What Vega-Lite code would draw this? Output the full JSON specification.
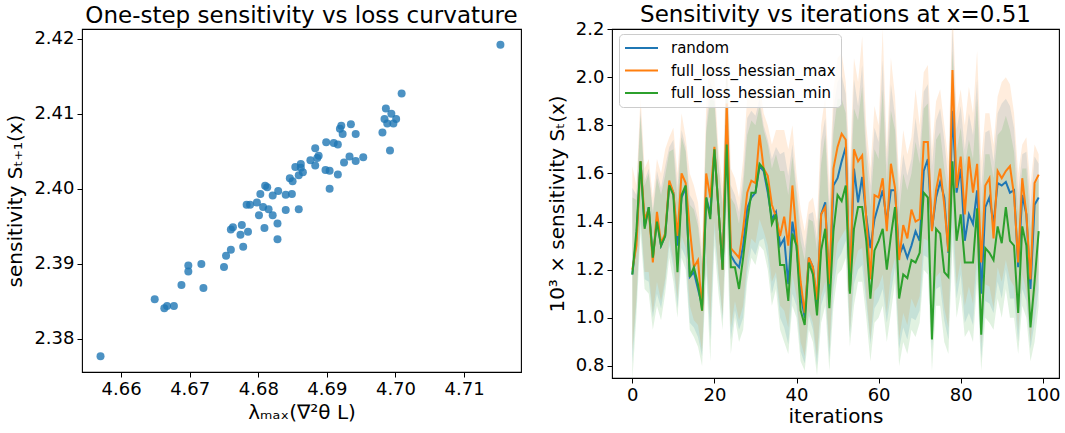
{
"$schema":"https://vega.github.io/schema/vega-lite/v6.json",
"padding":{"left":5,"top":3,"right":5,"bottom":5},
"bounds":"flush",
"spacing":91,
"config":{"font":"DejaVu Sans","view":{"stroke":"#000000","strokeWidth":1.1},
"axis":{"grid":false,"domain":false,"labelFontSize":18,"titleFontSize":20,"titleFontWeight":"normal","labelColor":"#000","titleColor":"#000","tickColor":"#000","tickSize":5,"labelPadding":3,"labelFont":"DejaVu Sans","titleFont":"DejaVu Sans"},
"title":{"fontSize":23,"fontWeight":"normal","font":"DejaVu Sans","color":"#000","offset":5,"baseline":"alphabetic"}},
"datasets":{
"pts":[{"x":4.7153,"y":2.4192},{"x":4.7009,"y":2.4127},{"x":4.6986,"y":2.4107},{"x":4.6994,"y":2.41},{"x":4.6984,"y":2.4093},{"x":4.7001,"y":2.4093},{"x":4.6988,"y":2.4087},{"x":4.6997,"y":2.4087},{"x":4.6981,"y":2.4075},{"x":4.6992,"y":2.4051},{"x":4.6935,"y":2.4086},{"x":4.6921,"y":2.4084},{"x":4.6919,"y":2.408},{"x":4.6923,"y":2.4073},{"x":4.6942,"y":2.4073},{"x":4.6899,"y":2.4062},{"x":4.691,"y":2.4061},{"x":4.6916,"y":2.4059},{"x":4.6883,"y":2.4054},{"x":4.6888,"y":2.4044},{"x":4.6886,"y":2.4041},{"x":4.6876,"y":2.4038},{"x":4.6883,"y":2.4031},{"x":4.6933,"y":2.4043},{"x":4.6953,"y":2.4042},{"x":4.6942,"y":2.4037},{"x":4.6925,"y":2.4035},{"x":4.6898,"y":2.4025},{"x":4.6904,"y":2.4024},{"x":4.6916,"y":2.4019},{"x":4.6904,"y":2.4},{"x":4.6854,"y":2.4029},{"x":4.6862,"y":2.4033},{"x":4.6862,"y":2.4028},{"x":4.6865,"y":2.4022},{"x":4.6859,"y":2.4018},{"x":4.6846,"y":2.4014},{"x":4.685,"y":2.401},{"x":4.681,"y":2.4004},{"x":4.6813,"y":2.4002},{"x":4.6829,"y":2.3997},{"x":4.684,"y":2.3992},{"x":4.6849,"y":2.3993},{"x":4.6821,"y":2.3991},{"x":4.6803,"y":2.3993},{"x":4.6798,"y":2.3982},{"x":4.6783,"y":2.3979},{"x":4.6788,"y":2.3979},{"x":4.6807,"y":2.3976},{"x":4.6815,"y":2.3973},{"x":4.684,"y":2.3972},{"x":4.6859,"y":2.3973},{"x":4.6801,"y":2.3965},{"x":4.6821,"y":2.3965},{"x":4.6828,"y":2.3954},{"x":4.6809,"y":2.3948},{"x":4.6828,"y":2.3933},{"x":4.6776,"y":2.3952},{"x":4.6763,"y":2.3949},{"x":4.676,"y":2.3946},{"x":4.6785,"y":2.3943},{"x":4.6774,"y":2.3939},{"x":4.6778,"y":2.3923},{"x":4.676,"y":2.3919},{"x":4.6753,"y":2.3911},{"x":4.675,"y":2.3896},{"x":4.6717,"y":2.39},{"x":4.6698,"y":2.3898},{"x":4.6698,"y":2.389},{"x":4.672,"y":2.3868},{"x":4.6688,"y":2.3872},{"x":4.6649,"y":2.3853},{"x":4.6667,"y":2.3844},{"x":4.6663,"y":2.3841},{"x":4.6677,"y":2.3844},{"x":4.657,"y":2.3777}],
"sens":[
{"i":0,"s":"random","v":1.18,"lo":0.81,"hi":1.54},{"i":1,"s":"random","v":1.33,"lo":1.06,"hi":1.51},{"i":2,"s":"random","v":1.65,"lo":1.4,"hi":1.87},{"i":3,"s":"random","v":1.38,"lo":1.16,"hi":1.57},{"i":4,"s":"random","v":1.46,"lo":1.15,"hi":1.62},{"i":5,"s":"random","v":1.25,"lo":1.0,"hi":1.45},{"i":6,"s":"random","v":1.41,"lo":1.1,"hi":1.61},{"i":7,"s":"random","v":1.3,"lo":1.04,"hi":1.54},{"i":8,"s":"random","v":1.34,"lo":1.14,"hi":1.63},{"i":9,"s":"random","v":1.56,"lo":1.3,"hi":1.71},
{"i":10,"s":"random","v":1.52,"lo":1.21,"hi":1.74},{"i":11,"s":"random","v":1.3,"lo":1.04,"hi":1.54},{"i":12,"s":"random","v":1.5,"lo":1.29,"hi":1.78},{"i":13,"s":"random","v":1.54,"lo":1.25,"hi":1.71},{"i":14,"s":"random","v":1.17,"lo":0.98,"hi":1.51},{"i":15,"s":"random","v":1.19,"lo":0.96,"hi":1.48},{"i":16,"s":"random","v":1.12,"lo":0.92,"hi":1.41},{"i":17,"s":"random","v":1.05,"lo":0.84,"hi":1.25},{"i":18,"s":"random","v":1.5,"lo":1.23,"hi":1.8},{"i":19,"s":"random","v":1.43,"lo":0.91,"hi":1.98},
{"i":20,"s":"random","v":1.7,"lo":1.36,"hi":1.93},{"i":21,"s":"random","v":1.45,"lo":1.16,"hi":1.65},{"i":22,"s":"random","v":1.2,"lo":0.99,"hi":1.48},{"i":23,"s":"random","v":1.8,"lo":1.49,"hi":2.09},{"i":24,"s":"random","v":1.26,"lo":0.91,"hi":1.55},{"i":25,"s":"random","v":1.23,"lo":1.03,"hi":1.51},{"i":26,"s":"random","v":1.21,"lo":0.95,"hi":1.44},{"i":27,"s":"random","v":1.3,"lo":1.0,"hi":1.59},{"i":28,"s":"random","v":1.455,"lo":1.19,"hi":1.83},{"i":29,"s":"random","v":1.5,"lo":1.29,"hi":1.86},
{"i":30,"s":"random","v":1.52,"lo":1.26,"hi":1.84},{"i":31,"s":"random","v":1.63,"lo":1.32,"hi":1.91},{"i":32,"s":"random","v":1.61,"lo":1.33,"hi":1.8},{"i":33,"s":"random","v":1.52,"lo":1.25,"hi":1.74},{"i":34,"s":"random","v":1.41,"lo":1.1,"hi":1.66},{"i":35,"s":"random","v":1.44,"lo":1.17,"hi":1.71},{"i":36,"s":"random","v":1.3,"lo":1.0,"hi":1.68},{"i":37,"s":"random","v":1.33,"lo":0.96,"hi":1.69},{"i":38,"s":"random","v":1.14,"lo":0.89,"hi":1.59},{"i":39,"s":"random","v":1.4,"lo":1.1,"hi":1.72},
{"i":40,"s":"random","v":1.3,"lo":1.05,"hi":1.54},{"i":41,"s":"random","v":1.1,"lo":0.86,"hi":1.38},{"i":42,"s":"random","v":1.0,"lo":0.81,"hi":1.29},{"i":43,"s":"random","v":1.25,"lo":1.01,"hi":1.43},{"i":44,"s":"random","v":1.21,"lo":0.95,"hi":1.44},{"i":45,"s":"random","v":1.055,"lo":0.8,"hi":1.33},{"i":46,"s":"random","v":1.43,"lo":1.05,"hi":1.73},{"i":47,"s":"random","v":1.48,"lo":1.11,"hi":1.83},{"i":48,"s":"random","v":1.11,"lo":0.83,"hi":1.46},{"i":49,"s":"random","v":1.55,"lo":1.12,"hi":1.87},
{"i":50,"s":"random","v":1.58,"lo":1.24,"hi":1.98},{"i":51,"s":"random","v":1.65,"lo":1.27,"hi":2.01},{"i":52,"s":"random","v":1.71,"lo":1.32,"hi":1.93},{"i":53,"s":"random","v":1.11,"lo":0.92,"hi":1.52},{"i":54,"s":"random","v":1.62,"lo":1.14,"hi":1.99},{"i":55,"s":"random","v":1.48,"lo":1.2,"hi":1.88},{"i":56,"s":"random","v":1.585,"lo":1.22,"hi":2.05},{"i":57,"s":"random","v":1.42,"lo":1.06,"hi":1.72},{"i":58,"s":"random","v":1.29,"lo":0.89,"hi":1.55},{"i":59,"s":"random","v":1.41,"lo":1.04,"hi":1.79},
{"i":60,"s":"random","v":1.47,"lo":1.07,"hi":1.73},{"i":61,"s":"random","v":1.53,"lo":1.12,"hi":2.07},{"i":62,"s":"random","v":1.4,"lo":0.98,"hi":1.64},{"i":63,"s":"random","v":1.53,"lo":1.1,"hi":1.97},{"i":64,"s":"random","v":1.53,"lo":1.21,"hi":1.84},{"i":65,"s":"random","v":1.26,"lo":0.87,"hi":1.52},{"i":66,"s":"random","v":1.3,"lo":0.96,"hi":1.68},{"i":67,"s":"random","v":1.25,"lo":0.91,"hi":1.59},{"i":68,"s":"random","v":1.3,"lo":1.0,"hi":1.66},{"i":69,"s":"random","v":1.36,"lo":0.99,"hi":1.83},
{"i":70,"s":"random","v":1.32,"lo":1.03,"hi":1.7},{"i":71,"s":"random","v":1.61,"lo":1.26,"hi":1.94},{"i":72,"s":"random","v":1.66,"lo":1.25,"hi":1.97},{"i":73,"s":"random","v":1.365,"lo":0.87,"hi":1.63},{"i":74,"s":"random","v":1.5,"lo":1.12,"hi":1.82},{"i":75,"s":"random","v":1.565,"lo":1.13,"hi":1.87},{"i":76,"s":"random","v":1.5,"lo":0.99,"hi":1.74},{"i":77,"s":"random","v":1.27,"lo":0.91,"hi":1.57},{"i":78,"s":"random","v":1.86,"lo":1.38,"hi":2.21},{"i":79,"s":"random","v":1.52,"lo":1.08,"hi":1.78},
{"i":80,"s":"random","v":1.62,"lo":1.18,"hi":1.88},{"i":81,"s":"random","v":1.32,"lo":0.98,"hi":1.7},{"i":82,"s":"random","v":1.43,"lo":1.02,"hi":1.85},{"i":83,"s":"random","v":1.39,"lo":0.97,"hi":1.76},{"i":84,"s":"random","v":1.53,"lo":1.21,"hi":1.99},{"i":85,"s":"random","v":1.1,"lo":0.83,"hi":1.54},{"i":86,"s":"random","v":1.46,"lo":1.07,"hi":1.77},{"i":87,"s":"random","v":1.5,"lo":1.06,"hi":1.78},{"i":88,"s":"random","v":1.39,"lo":1.02,"hi":1.65},{"i":89,"s":"random","v":1.56,"lo":1.15,"hi":1.85},
{"i":90,"s":"random","v":1.55,"lo":1.08,"hi":1.89},{"i":91,"s":"random","v":1.565,"lo":1.2,"hi":1.91},{"i":92,"s":"random","v":1.52,"lo":1.08,"hi":1.88},{"i":93,"s":"random","v":1.53,"lo":1.08,"hi":1.79},{"i":94,"s":"random","v":1.21,"lo":0.9,"hi":1.52},{"i":95,"s":"random","v":1.51,"lo":1.12,"hi":1.68},{"i":96,"s":"random","v":1.43,"lo":1.07,"hi":1.69},{"i":97,"s":"random","v":1.12,"lo":0.87,"hi":1.46},{"i":98,"s":"random","v":1.47,"lo":0.98,"hi":1.67},{"i":99,"s":"random","v":1.5,"lo":1.12,"hi":1.64},
{"i":0,"s":"full_loss_hessian_max","v":1.2,"lo":0.86,"hi":1.63},{"i":1,"s":"full_loss_hessian_max","v":1.3,"lo":1.08,"hi":1.55},{"i":2,"s":"full_loss_hessian_max","v":1.65,"lo":1.43,"hi":1.92},{"i":3,"s":"full_loss_hessian_max","v":1.41,"lo":1.19,"hi":1.62},{"i":4,"s":"full_loss_hessian_max","v":1.45,"lo":1.19,"hi":1.66},{"i":5,"s":"full_loss_hessian_max","v":1.23,"lo":1.02,"hi":1.5},{"i":6,"s":"full_loss_hessian_max","v":1.44,"lo":1.15,"hi":1.66},{"i":7,"s":"full_loss_hessian_max","v":1.31,"lo":1.07,"hi":1.6},{"i":8,"s":"full_loss_hessian_max","v":1.35,"lo":1.16,"hi":1.7},{"i":9,"s":"full_loss_hessian_max","v":1.57,"lo":1.33,"hi":1.75},
{"i":10,"s":"full_loss_hessian_max","v":1.52,"lo":1.24,"hi":1.79},{"i":11,"s":"full_loss_hessian_max","v":1.34,"lo":1.08,"hi":1.6},{"i":12,"s":"full_loss_hessian_max","v":1.6,"lo":1.34,"hi":1.85},{"i":13,"s":"full_loss_hessian_max","v":1.56,"lo":1.29,"hi":1.75},{"i":14,"s":"full_loss_hessian_max","v":1.37,"lo":1.05,"hi":1.6},{"i":15,"s":"full_loss_hessian_max","v":1.21,"lo":0.99,"hi":1.55},{"i":16,"s":"full_loss_hessian_max","v":1.24,"lo":0.97,"hi":1.48},{"i":17,"s":"full_loss_hessian_max","v":1.03,"lo":0.86,"hi":1.3},{"i":18,"s":"full_loss_hessian_max","v":1.6,"lo":1.28,"hi":1.88},{"i":19,"s":"full_loss_hessian_max","v":1.5,"lo":0.99,"hi":2.12},
{"i":20,"s":"full_loss_hessian_max","v":1.71,"lo":1.4,"hi":1.99},{"i":21,"s":"full_loss_hessian_max","v":1.45,"lo":1.19,"hi":1.7},{"i":22,"s":"full_loss_hessian_max","v":1.2,"lo":1.01,"hi":1.55},{"i":23,"s":"full_loss_hessian_max","v":1.89,"lo":1.48,"hi":2.16},{"i":24,"s":"full_loss_hessian_max","v":1.29,"lo":0.96,"hi":1.62},{"i":25,"s":"full_loss_hessian_max","v":1.27,"lo":1.07,"hi":1.58},{"i":26,"s":"full_loss_hessian_max","v":1.25,"lo":0.99,"hi":1.5},{"i":27,"s":"full_loss_hessian_max","v":1.37,"lo":1.05,"hi":1.66},{"i":28,"s":"full_loss_hessian_max","v":1.52,"lo":1.24,"hi":1.92},{"i":29,"s":"full_loss_hessian_max","v":1.57,"lo":1.33,"hi":1.95},
{"i":30,"s":"full_loss_hessian_max","v":1.56,"lo":1.31,"hi":1.92},{"i":31,"s":"full_loss_hessian_max","v":1.76,"lo":1.41,"hi":1.98},{"i":32,"s":"full_loss_hessian_max","v":1.62,"lo":1.36,"hi":1.85},{"i":33,"s":"full_loss_hessian_max","v":1.59,"lo":1.3,"hi":1.8},{"i":34,"s":"full_loss_hessian_max","v":1.47,"lo":1.15,"hi":1.72},{"i":35,"s":"full_loss_hessian_max","v":1.42,"lo":1.19,"hi":1.78},{"i":36,"s":"full_loss_hessian_max","v":1.34,"lo":1.05,"hi":1.78},{"i":37,"s":"full_loss_hessian_max","v":1.42,"lo":1.03,"hi":1.78},{"i":38,"s":"full_loss_hessian_max","v":1.3,"lo":0.96,"hi":1.7},{"i":39,"s":"full_loss_hessian_max","v":1.55,"lo":1.18,"hi":1.8},
{"i":40,"s":"full_loss_hessian_max","v":1.34,"lo":1.09,"hi":1.6},{"i":41,"s":"full_loss_hessian_max","v":1.15,"lo":0.9,"hi":1.45},{"i":42,"s":"full_loss_hessian_max","v":1.02,"lo":0.84,"hi":1.36},{"i":43,"s":"full_loss_hessian_max","v":1.25,"lo":1.03,"hi":1.48},{"i":44,"s":"full_loss_hessian_max","v":1.21,"lo":0.98,"hi":1.5},{"i":45,"s":"full_loss_hessian_max","v":1.075,"lo":0.84,"hi":1.4},{"i":46,"s":"full_loss_hessian_max","v":1.43,"lo":1.09,"hi":1.8},{"i":47,"s":"full_loss_hessian_max","v":1.46,"lo":1.15,"hi":1.92},{"i":48,"s":"full_loss_hessian_max","v":1.14,"lo":0.87,"hi":1.55},{"i":49,"s":"full_loss_hessian_max","v":1.62,"lo":1.19,"hi":1.95},
{"i":50,"s":"full_loss_hessian_max","v":1.71,"lo":1.31,"hi":2.08},{"i":51,"s":"full_loss_hessian_max","v":1.765,"lo":1.34,"hi":2.1},{"i":52,"s":"full_loss_hessian_max","v":1.74,"lo":1.37,"hi":1.98},{"i":53,"s":"full_loss_hessian_max","v":1.11,"lo":0.94,"hi":1.62},{"i":54,"s":"full_loss_hessian_max","v":1.7,"lo":1.21,"hi":2.08},{"i":55,"s":"full_loss_hessian_max","v":1.65,"lo":1.28,"hi":1.98},{"i":56,"s":"full_loss_hessian_max","v":1.675,"lo":1.29,"hi":2.17},{"i":57,"s":"full_loss_hessian_max","v":1.41,"lo":1.1,"hi":1.8},{"i":58,"s":"full_loss_hessian_max","v":1.16,"lo":0.91,"hi":1.62},{"i":59,"s":"full_loss_hessian_max","v":1.51,"lo":1.11,"hi":1.88},
{"i":60,"s":"full_loss_hessian_max","v":1.5,"lo":1.13,"hi":1.8},{"i":61,"s":"full_loss_hessian_max","v":1.58,"lo":1.18,"hi":2.2},{"i":62,"s":"full_loss_hessian_max","v":1.36,"lo":1.02,"hi":1.7},{"i":63,"s":"full_loss_hessian_max","v":1.64,"lo":1.18,"hi":2.08},{"i":64,"s":"full_loss_hessian_max","v":1.54,"lo":1.25,"hi":1.92},{"i":65,"s":"full_loss_hessian_max","v":1.24,"lo":0.91,"hi":1.58},{"i":66,"s":"full_loss_hessian_max","v":1.385,"lo":1.02,"hi":1.78},{"i":67,"s":"full_loss_hessian_max","v":1.33,"lo":0.97,"hi":1.68},{"i":68,"s":"full_loss_hessian_max","v":1.45,"lo":1.08,"hi":1.75},{"i":69,"s":"full_loss_hessian_max","v":1.4,"lo":1.04,"hi":1.95},
{"i":70,"s":"full_loss_hessian_max","v":1.41,"lo":1.09,"hi":1.8},{"i":71,"s":"full_loss_hessian_max","v":1.73,"lo":1.33,"hi":2.02},{"i":72,"s":"full_loss_hessian_max","v":1.73,"lo":1.32,"hi":2.05},{"i":73,"s":"full_loss_hessian_max","v":1.36,"lo":0.92,"hi":1.7},{"i":74,"s":"full_loss_hessian_max","v":1.53,"lo":1.17,"hi":1.9},{"i":75,"s":"full_loss_hessian_max","v":1.62,"lo":1.19,"hi":1.95},{"i":76,"s":"full_loss_hessian_max","v":1.47,"lo":1.04,"hi":1.8},{"i":77,"s":"full_loss_hessian_max","v":1.275,"lo":0.96,"hi":1.65},{"i":78,"s":"full_loss_hessian_max","v":2.03,"lo":1.48,"hi":2.3},{"i":79,"s":"full_loss_hessian_max","v":1.54,"lo":1.14,"hi":1.85},
{"i":80,"s":"full_loss_hessian_max","v":1.67,"lo":1.24,"hi":1.95},{"i":81,"s":"full_loss_hessian_max","v":1.43,"lo":1.05,"hi":1.8},{"i":82,"s":"full_loss_hessian_max","v":1.67,"lo":1.13,"hi":1.96},{"i":83,"s":"full_loss_hessian_max","v":1.52,"lo":1.06,"hi":1.85},{"i":84,"s":"full_loss_hessian_max","v":1.64,"lo":1.27,"hi":2.11},{"i":85,"s":"full_loss_hessian_max","v":1.23,"lo":0.89,"hi":1.65},{"i":86,"s":"full_loss_hessian_max","v":1.55,"lo":1.14,"hi":1.85},{"i":87,"s":"full_loss_hessian_max","v":1.58,"lo":1.13,"hi":1.85},{"i":88,"s":"full_loss_hessian_max","v":1.33,"lo":1.04,"hi":1.72},{"i":89,"s":"full_loss_hessian_max","v":1.61,"lo":1.21,"hi":1.92},
{"i":90,"s":"full_loss_hessian_max","v":1.58,"lo":1.15,"hi":1.98},{"i":91,"s":"full_loss_hessian_max","v":1.61,"lo":1.24,"hi":2.0},{"i":92,"s":"full_loss_hessian_max","v":1.63,"lo":1.16,"hi":1.97},{"i":93,"s":"full_loss_hessian_max","v":1.51,"lo":1.13,"hi":1.85},{"i":94,"s":"full_loss_hessian_max","v":1.23,"lo":0.95,"hi":1.6},{"i":95,"s":"full_loss_hessian_max","v":1.58,"lo":1.18,"hi":1.72},{"i":96,"s":"full_loss_hessian_max","v":1.43,"lo":1.11,"hi":1.75},{"i":97,"s":"full_loss_hessian_max","v":1.16,"lo":0.9,"hi":1.55},{"i":98,"s":"full_loss_hessian_max","v":1.56,"lo":1.07,"hi":1.72},{"i":99,"s":"full_loss_hessian_max","v":1.595,"lo":1.19,"hi":1.68},
{"i":0,"s":"full_loss_hessian_min","v":1.18,"lo":0.74,"hi":1.5},{"i":1,"s":"full_loss_hessian_min","v":1.36,"lo":1.01,"hi":1.49},{"i":2,"s":"full_loss_hessian_min","v":1.65,"lo":1.35,"hi":1.84},{"i":3,"s":"full_loss_hessian_min","v":1.37,"lo":1.12,"hi":1.55},{"i":4,"s":"full_loss_hessian_min","v":1.46,"lo":1.1,"hi":1.6},{"i":5,"s":"full_loss_hessian_min","v":1.25,"lo":0.95,"hi":1.43},{"i":6,"s":"full_loss_hessian_min","v":1.4,"lo":1.05,"hi":1.58},{"i":7,"s":"full_loss_hessian_min","v":1.3,"lo":0.99,"hi":1.51},{"i":8,"s":"full_loss_hessian_min","v":1.34,"lo":1.1,"hi":1.59},{"i":9,"s":"full_loss_hessian_min","v":1.55,"lo":1.25,"hi":1.69},
{"i":10,"s":"full_loss_hessian_min","v":1.51,"lo":1.15,"hi":1.7},{"i":11,"s":"full_loss_hessian_min","v":1.19,"lo":1.0,"hi":1.48},{"i":12,"s":"full_loss_hessian_min","v":1.51,"lo":1.25,"hi":1.75},{"i":13,"s":"full_loss_hessian_min","v":1.55,"lo":1.2,"hi":1.69},{"i":14,"s":"full_loss_hessian_min","v":1.17,"lo":0.95,"hi":1.47},{"i":15,"s":"full_loss_hessian_min","v":1.21,"lo":0.92,"hi":1.45},{"i":16,"s":"full_loss_hessian_min","v":1.14,"lo":0.88,"hi":1.38},{"i":17,"s":"full_loss_hessian_min","v":1.03,"lo":0.8,"hi":1.22},{"i":18,"s":"full_loss_hessian_min","v":1.5,"lo":1.18,"hi":1.77},{"i":19,"s":"full_loss_hessian_min","v":1.41,"lo":0.82,"hi":1.91},
{"i":20,"s":"full_loss_hessian_min","v":1.7,"lo":1.3,"hi":1.9},{"i":21,"s":"full_loss_hessian_min","v":1.45,"lo":1.1,"hi":1.63},{"i":22,"s":"full_loss_hessian_min","v":1.2,"lo":0.95,"hi":1.45},{"i":23,"s":"full_loss_hessian_min","v":1.72,"lo":1.35,"hi":2.03},{"i":24,"s":"full_loss_hessian_min","v":1.21,"lo":0.85,"hi":1.5},{"i":25,"s":"full_loss_hessian_min","v":1.21,"lo":1.0,"hi":1.47},{"i":26,"s":"full_loss_hessian_min","v":1.12,"lo":0.9,"hi":1.39},{"i":27,"s":"full_loss_hessian_min","v":1.25,"lo":0.95,"hi":1.54},{"i":28,"s":"full_loss_hessian_min","v":1.4,"lo":1.15,"hi":1.76},{"i":29,"s":"full_loss_hessian_min","v":1.52,"lo":1.25,"hi":1.82},
{"i":30,"s":"full_loss_hessian_min","v":1.52,"lo":1.22,"hi":1.8},{"i":31,"s":"full_loss_hessian_min","v":1.64,"lo":1.3,"hi":1.88},{"i":32,"s":"full_loss_hessian_min","v":1.62,"lo":1.28,"hi":1.78},{"i":33,"s":"full_loss_hessian_min","v":1.54,"lo":1.2,"hi":1.72},{"i":34,"s":"full_loss_hessian_min","v":1.39,"lo":1.05,"hi":1.62},{"i":35,"s":"full_loss_hessian_min","v":1.43,"lo":1.12,"hi":1.68},{"i":36,"s":"full_loss_hessian_min","v":1.22,"lo":0.95,"hi":1.61},{"i":37,"s":"full_loss_hessian_min","v":1.22,"lo":0.9,"hi":1.61},{"i":38,"s":"full_loss_hessian_min","v":1.07,"lo":0.85,"hi":1.51},{"i":39,"s":"full_loss_hessian_min","v":1.35,"lo":1.05,"hi":1.67},
{"i":40,"s":"full_loss_hessian_min","v":1.3,"lo":1.0,"hi":1.51},{"i":41,"s":"full_loss_hessian_min","v":1.03,"lo":0.82,"hi":1.32},{"i":42,"s":"full_loss_hessian_min","v":0.97,"lo":0.78,"hi":1.24},{"i":43,"s":"full_loss_hessian_min","v":1.23,"lo":0.95,"hi":1.41},{"i":44,"s":"full_loss_hessian_min","v":1.18,"lo":0.9,"hi":1.4},{"i":45,"s":"full_loss_hessian_min","v":1.01,"lo":0.76,"hi":1.28},{"i":46,"s":"full_loss_hessian_min","v":1.28,"lo":0.98,"hi":1.64},{"i":47,"s":"full_loss_hessian_min","v":1.37,"lo":1.05,"hi":1.76},{"i":48,"s":"full_loss_hessian_min","v":1.04,"lo":0.78,"hi":1.4},{"i":49,"s":"full_loss_hessian_min","v":1.36,"lo":1.05,"hi":1.77},
{"i":50,"s":"full_loss_hessian_min","v":1.51,"lo":1.18,"hi":1.91},{"i":51,"s":"full_loss_hessian_min","v":1.485,"lo":1.2,"hi":1.91},{"i":52,"s":"full_loss_hessian_min","v":1.55,"lo":1.25,"hi":1.85},{"i":53,"s":"full_loss_hessian_min","v":1.1,"lo":0.88,"hi":1.46},{"i":54,"s":"full_loss_hessian_min","v":1.37,"lo":1.05,"hi":1.87},{"i":55,"s":"full_loss_hessian_min","v":1.46,"lo":1.15,"hi":1.82},{"i":56,"s":"full_loss_hessian_min","v":1.46,"lo":1.15,"hi":1.96},{"i":57,"s":"full_loss_hessian_min","v":1.32,"lo":1.0,"hi":1.66},{"i":58,"s":"full_loss_hessian_min","v":1.08,"lo":0.82,"hi":1.46},{"i":59,"s":"full_loss_hessian_min","v":1.28,"lo":0.98,"hi":1.7},
{"i":60,"s":"full_loss_hessian_min","v":1.32,"lo":1.0,"hi":1.66},{"i":61,"s":"full_loss_hessian_min","v":1.37,"lo":1.05,"hi":1.95},{"i":62,"s":"full_loss_hessian_min","v":1.2,"lo":0.9,"hi":1.55},{"i":63,"s":"full_loss_hessian_min","v":1.34,"lo":1.02,"hi":1.86},{"i":64,"s":"full_loss_hessian_min","v":1.46,"lo":1.15,"hi":1.78},{"i":65,"s":"full_loss_hessian_min","v":1.08,"lo":0.8,"hi":1.43},{"i":66,"s":"full_loss_hessian_min","v":1.18,"lo":0.9,"hi":1.6},{"i":67,"s":"full_loss_hessian_min","v":1.165,"lo":0.85,"hi":1.53},{"i":68,"s":"full_loss_hessian_min","v":1.24,"lo":0.95,"hi":1.6},{"i":69,"s":"full_loss_hessian_min","v":1.23,"lo":0.92,"hi":1.73},
{"i":70,"s":"full_loss_hessian_min","v":1.27,"lo":0.98,"hi":1.64},{"i":71,"s":"full_loss_hessian_min","v":1.52,"lo":1.2,"hi":1.87},{"i":72,"s":"full_loss_hessian_min","v":1.5,"lo":1.18,"hi":1.89},{"i":73,"s":"full_loss_hessian_min","v":0.91,"lo":0.78,"hi":1.46},{"i":74,"s":"full_loss_hessian_min","v":1.37,"lo":1.05,"hi":1.74},{"i":75,"s":"full_loss_hessian_min","v":1.35,"lo":1.05,"hi":1.77},{"i":76,"s":"full_loss_hessian_min","v":1.19,"lo":0.9,"hi":1.62},{"i":77,"s":"full_loss_hessian_min","v":1.17,"lo":0.85,"hi":1.51},{"i":78,"s":"full_loss_hessian_min","v":1.65,"lo":1.3,"hi":2.11},{"i":79,"s":"full_loss_hessian_min","v":1.32,"lo":1.0,"hi":1.69},
{"i":80,"s":"full_loss_hessian_min","v":1.43,"lo":1.1,"hi":1.79},{"i":81,"s":"full_loss_hessian_min","v":1.23,"lo":0.92,"hi":1.63},{"i":82,"s":"full_loss_hessian_min","v":1.23,"lo":0.95,"hi":1.74},{"i":83,"s":"full_loss_hessian_min","v":1.23,"lo":0.9,"hi":1.66},{"i":84,"s":"full_loss_hessian_min","v":1.455,"lo":1.15,"hi":1.91},{"i":85,"s":"full_loss_hessian_min","v":0.93,"lo":0.78,"hi":1.43},{"i":86,"s":"full_loss_hessian_min","v":1.29,"lo":1.0,"hi":1.68},{"i":87,"s":"full_loss_hessian_min","v":1.27,"lo":0.98,"hi":1.68},{"i":88,"s":"full_loss_hessian_min","v":1.24,"lo":0.95,"hi":1.58},{"i":89,"s":"full_loss_hessian_min","v":1.38,"lo":1.08,"hi":1.76},
{"i":90,"s":"full_loss_hessian_min","v":1.31,"lo":1.0,"hi":1.78},{"i":91,"s":"full_loss_hessian_min","v":1.46,"lo":1.12,"hi":1.84},{"i":92,"s":"full_loss_hessian_min","v":1.32,"lo":1.0,"hi":1.78},{"i":93,"s":"full_loss_hessian_min","v":1.3,"lo":1.0,"hi":1.69},{"i":94,"s":"full_loss_hessian_min","v":1.02,"lo":0.85,"hi":1.43},{"i":95,"s":"full_loss_hessian_min","v":1.38,"lo":1.05,"hi":1.62},{"i":96,"s":"full_loss_hessian_min","v":1.3,"lo":1.0,"hi":1.62},{"i":97,"s":"full_loss_hessian_min","v":0.96,"lo":0.82,"hi":1.37},{"i":98,"s":"full_loss_hessian_min","v":1.15,"lo":0.9,"hi":1.55},{"i":99,"s":"full_loss_hessian_min","v":1.36,"lo":1.05,"hi":1.58}
]},
"hconcat":[
{"width":439,"height":343,
"title":{"text":"One-step sensitivity vs loss curvature","dy":4},
"data":{"name":"pts"},
"mark":{"type":"circle","size":64,"opacity":0.8,"color":"#1f77b4"},
"encoding":{
"x":{"field":"x","type":"quantitative","scale":{"domain":[4.6543,4.7183],"nice":false,"zero":false},"axis":{"values":[4.66,4.67,4.68,4.69,4.7,4.71],"format":".2f","title":"λₘₐₓ(∇²θ L)","titlePadding":4}},
"y":{"field":"y","type":"quantitative","scale":{"domain":[2.3756,2.4213],"nice":false,"zero":false},"axis":{"values":[2.38,2.39,2.4,2.41,2.42],"format":".2f","title":"sensitivity Sₜ₊₁(x)","titlePadding":8}}
}},
{"width":447,"height":349,
"title":{"text":"Sensitivity vs iterations at x=0.51","dy":12},
"data":{"name":"sens"},
"encoding":{
"x":{"field":"i","type":"quantitative","scale":{"domain":[-4.95,103.95],"nice":false,"zero":false},"axis":{"values":[0,20,40,60,80,100],"title":"iterations","titlePadding":2}},
"color":{"field":"s","type":"nominal","sort":null,"scale":{"domain":["random","full_loss_hessian_max","full_loss_hessian_min"],"range":["#1f77b4","#ff7f0e","#2ca02c"]},"legend":{"title":null,"orient":"none","legendX":537,"legendY":5,"symbolType":"stroke","symbolSize":1089,"symbolStrokeWidth":2,"symbolOpacity":1,"clipHeight":18,"labelFontSize":15,"labelLimit":400,"labelOffset":12,"rowPadding":4.5,"padding":5,"strokeColor":"#cccccc","fillColor":"rgba(255,255,255,0.8)","cornerRadius":4,"labelColor":"#000","labelFont":"DejaVu Sans"}}
},
"layer":[
{"mark":{"type":"area","fillOpacity":0.14,"clip":true},
"encoding":{"y":{"field":"lo","type":"quantitative","scale":{"domain":[0.75,2.2],"nice":false,"zero":false},"axis":{"values":[0.8,1.0,1.2,1.4,1.6,1.8,2.0,2.2],"format":".1f","title":"10³ × sensitivity Sₜ(x)","titlePadding":8}},"y2":{"field":"hi"}}},
{"mark":{"type":"line","strokeWidth":2,"clip":true},
"encoding":{"y":{"field":"v","type":"quantitative"}}}
]}
]
}
